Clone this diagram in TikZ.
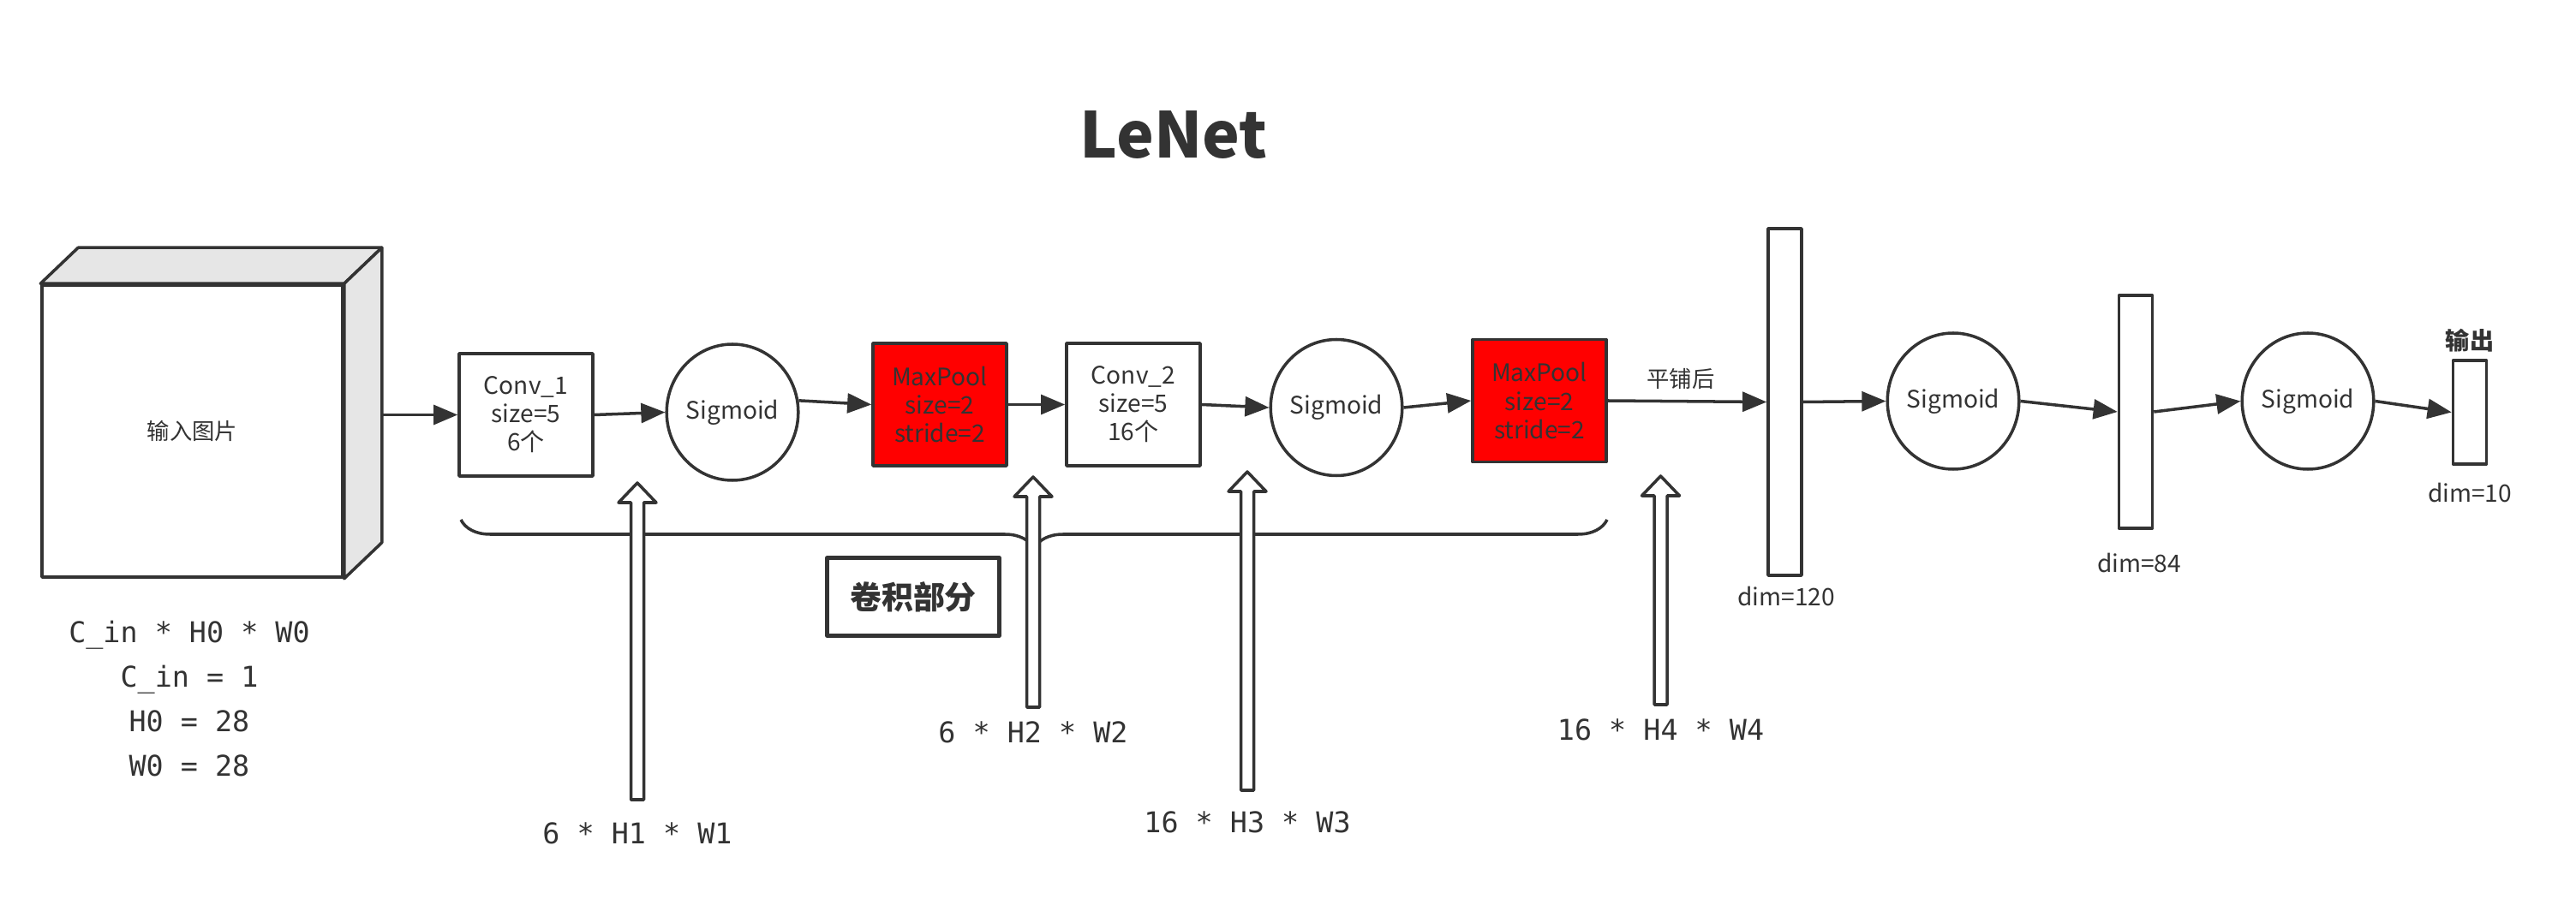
\documentclass[tikz,border=0pt]{standalone}
\usepackage{fontspec}
\setmainfont{Noto Sans CJK SC}
\setmonofont{DejaVu Sans Mono}
\usetikzlibrary{arrows.meta,shapes.geometric,decorations.pathreplacing,positioning}
\definecolor{ink}{HTML}{333333}
\definecolor{face}{HTML}{E6E6E6}
\definecolor{poolred}{HTML}{FF0000}
\begin{document}
\begin{tikzpicture}[>={Triangle[length=8pt,width=6.5pt]},line join=round,line width=1pt,color=ink,
	font=\fontsize{8}{9.4}\selectfont,
	box/.style={draw,minimum width=1.56cm,minimum height=1.43cm,align=center,inner sep=0pt},
	pool/.style={box,fill=poolred},
	act/.style={draw,ellipse,minimum width=1.49cm,minimum height=1.59cm,inner sep=0pt},
	bar/.style={draw,minimum width=0.39cm,inner sep=0pt},
	small/.style={font=\fontsize{7.5}{9}\selectfont},
	note/.style={font=\fontsize{9.5}{14.8}\selectfont\ttfamily,align=center}]
	\useasboundingbox (0,0) rectangle (30.07,10.56);
	\node[font=\fontsize{21}{24}\selectfont\bfseries] (title) at (13.70,8.98) {LeNet};
	% khối ảnh vào
	\node[draw,fill=white,minimum width=3.51cm,minimum height=3.41cm,small] (img) at (2.245,5.525) {输入图片};
	\coordinate (imgtl) at ([shift={(0.44,0.42)}]img.north west);
	\coordinate (imgtr) at ([shift={(0.44,0.42)}]img.north east);
	\coordinate (imgbr) at ([shift={(0.44,0.42)}]img.south east);
	\draw[fill=face] (img.north west)--(imgtl)--(imgtr)--(img.north east)--cycle;
	\draw[fill=face] (img.north east)--(imgtr)--(imgbr)--(img.south east)--cycle;
	\node[note] (shape0) at (2.21,2.395) {C\_in * H0 * W0\\C\_in = 1\\H0 = 28\\W0 = 28};
	% phần tích chập
	\node[box] (conv1) at (6.14,5.715) {Conv\_1\\size=5\\6个};
	\node[act] (sig1) at (8.55,5.745) {Sigmoid};
	\node[pool] (pool1) at (10.97,5.835) {MaxPool\\size=2\\stride=2};
	\node[box] (conv2) at (13.23,5.835) {Conv\_2\\size=5\\16个};
	\node[act] (sig2) at (15.60,5.80) {Sigmoid};
	\node[pool] (pool2) at (17.97,5.88) {MaxPool\\size=2\\stride=2};
	% phần toàn kết nối
	\node[bar,minimum height=4.05cm] (fc1) at (20.835,5.865) {};
	\node[act] (sig3) at (22.80,5.875) {Sigmoid};
	\node[bar,minimum height=2.72cm] (fc2) at (24.93,5.75) {};
	\node[act] (sig4) at (26.94,5.875) {Sigmoid};
	\node[bar,minimum height=1.21cm] (fc3) at (28.83,5.745) {};
	\node[small] (flat) at (19.62,6.13) {平铺后};
	\node (dim1) at (20.85,3.60) {dim=120};
	\node (dim2) at (24.97,3.99) {dim=84};
	\node (dim3) at (28.83,4.81) {dim=10};
	\node[font=\fontsize{8}{9.4}\selectfont\bfseries] (out) at (28.83,6.58) {输出};
	\draw[->] (imgtr |- conv1.west)--(conv1.west);
	\draw[->] (conv1.east)--(sig1.west);
	\draw[->] (sig1.10)--(pool1.west);
	\draw[->] (pool1.east)--(conv2.west);
	\draw[->] (conv2.east)--(sig2.west);
	\draw[->] (sig2.east)--(pool2.west);
	\draw[->] (pool2.east)--(fc1.west);
	\draw[->] (fc1.east)--(sig3.west);
	\draw[->] (sig3.east)--(fc2.west);
	\draw[->] (fc2.east)--(sig4.west);
	\draw[->] (sig4.east)--(fc3.west);
	\draw[decorate,decoration={brace,mirror,amplitude=0.34cm}] (5.38,4.49)--(18.76,4.49);
	\node[draw,line width=1.3pt,minimum width=2.01cm,minimum height=0.91cm,font=\fontsize{10.5}{12}\selectfont\bfseries] (convpart) at (10.66,3.59) {卷积部分};
	% mũi tên rỗng chỉ kích thước
	\foreach \xa/\ya/\yb/\lab/\yl/\nm in {7.44/4.92/1.22/{6 * H1 * W1}/0.83/s1,12.06/4.99/2.30/{6 * H2 * W2}/2.01/s2,14.56/5.05/1.33/{16 * H3 * W3}/0.96/s3,19.385/5.00/2.33/{16 * H4 * W4}/2.04/s4}{
		\draw[fill=white] (\xa-0.075,\yb)--(\xa-0.075,\ya-0.23)--(\xa-0.22,\ya-0.23)--(\xa,\ya)--(\xa+0.22,\ya-0.23)--(\xa+0.075,\ya-0.23)--(\xa+0.075,\yb)--cycle;
		\node[note] (\nm) at (\xa,\yl) {\lab};
	}
\end{tikzpicture}
\end{document}
